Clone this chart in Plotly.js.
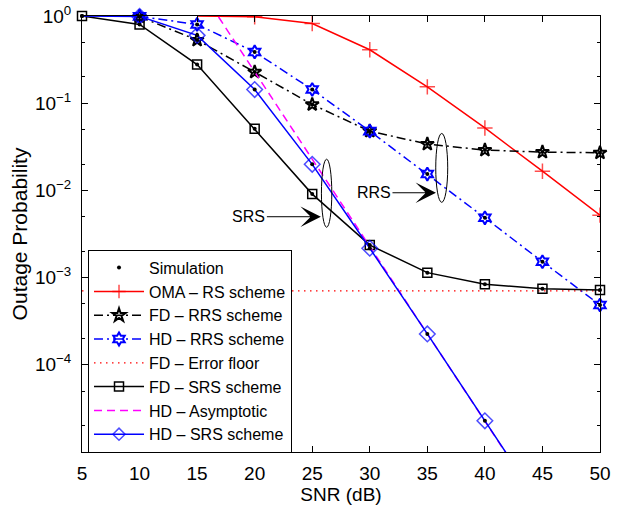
<!DOCTYPE html>
<html><head><meta charset="utf-8">
<script src="https://cdn.plot.ly/plotly-3.0.1.min.js"></script>
<style>html,body{margin:0;padding:0;background:#fff}</style>
</head><body>
<div id="chart" style="width:625px;height:508px"></div>
<script>
// ---- data ----
const snrTicks = [5, 10, 15, 20, 25, 30, 35, 40, 45, 50];
const omaSnr = [15, 20, 25, 30, 35, 40, 45, 50];
const omaRs = [1, 0.98, 0.82, 0.41, 0.154, 0.052, 0.0166, 0.0052];
const rrsSnr = [10, 15, 20, 25, 30, 35, 40, 45, 50];
const fdRrs = [0.98, 0.53, 0.228, 0.0966, 0.0478, 0.034, 0.029, 0.0275, 0.027];
const hdRrs = [0.99, 0.80, 0.387, 0.1435, 0.0478, 0.0154, 0.00485, 0.00152, 0.000485];
const fdSrsSnr = [5, 10, 15, 20, 25, 30, 35, 40, 45, 50];
const fdSrs = [1, 0.80, 0.277, 0.0508, 0.00907, 0.00236, 0.00114, 0.000837, 0.000746, 0.000721];
const hdSrsSnr = [5, 10, 15, 20, 25, 30, 35, 40, 45];
const hdSrs = [1, 0.99, 0.60, 0.1435, 0.0199, 0.00217, 0.000226, 0.0000228, 0.0000023];
const asymSnr = [15, 20, 25, 30, 35, 40, 45];
const hdAsym = [2.3, 0.23, 0.0225, 0.00225, 0.000226, 0.0000226, 0.00000225];
const floorSnr = [5, 50];
const fdFloor = [0.000703, 0.000703];
const yTickVals = [1, 0.1, 0.01, 0.001, 0.0001];
const yTickText = ['10<sup>0</sup>', '10<sup>−1</sup>', '10<sup>−2</sup>', '10<sup>−3</sup>', '10<sup>−4</sup>'];
const seriesNames = ['Simulation', 'OMA – RS scheme', 'FD – RRS scheme', 'HD – RRS scheme',
  'FD – Error floor', 'FD – SRS scheme', 'HD – Asymptotic', 'HD – SRS scheme'];
const yMin = 1e-5;

// simulation dots: points of the four relay-selection curves inside the plot
const simX = [], simY = [];
[[rrsSnr, fdRrs], [rrsSnr, hdRrs], [fdSrsSnr, fdSrs], [hdSrsSnr, hdSrs]].forEach(([xs, ys]) => {
  xs.forEach((x, i) => { if (ys[i] >= yMin) { simX.push(x); simY.push(ys[i]); } });
});

const FONT = 'Liberation Sans, Arial, Helvetica, sans-serif';
const sizesHideFirst = (arr, s) => arr.map((_, i) => i === 0 ? 0 : s);

const traces = [
  { name: seriesNames[1], x: omaSnr, y: omaRs, mode: 'lines+markers', legendrank: 2,
    line: { color: '#ff0000', width: 1.5 },
    marker: { symbol: 'cross-thin-open', size: sizesHideFirst(omaSnr, 11), color: '#ff0000', line: { color: '#ff0000', width: 1.5 } } },
  { name: seriesNames[2], x: rrsSnr, y: fdRrs, mode: 'lines+markers', legendrank: 3, cliponaxis: false,
    line: { color: '#000000', width: 1.5, dash: '9px,4px,2px,4px' },
    marker: { symbol: 'star-open', size: 10, color: '#000000', line: { color: '#000000', width: 2 } } },
  { name: seriesNames[3], x: rrsSnr, y: hdRrs, mode: 'lines+markers', legendrank: 4, cliponaxis: false,
    line: { color: '#0000ff', width: 1.5, dash: '9px,4px,2px,4px' },
    marker: { symbol: 'hexagram-open', size: 10, color: '#0000ff', line: { color: '#0000ff', width: 2 } } },
  { name: seriesNames[4], x: floorSnr, y: fdFloor, mode: 'lines', legendrank: 5,
    line: { color: '#ff0000', width: 1.2, dash: '1.5px,4.5px' } },
  { name: seriesNames[5], x: fdSrsSnr, y: fdSrs, mode: 'lines+markers', legendrank: 6, cliponaxis: false,
    line: { color: '#000000', width: 1.5 },
    marker: { symbol: 'square-open', size: 9, color: '#000000', line: { color: '#000000', width: 1.5 } } },
  { name: seriesNames[6], x: asymSnr, y: hdAsym, mode: 'lines', legendrank: 7,
    line: { color: '#ff00ff', width: 1.5, dash: '8px,5px' } },
  { name: seriesNames[7], x: hdSrsSnr, y: hdSrs, mode: 'lines+markers', legendrank: 8, cliponaxis: false,
    line: { color: '#0000ff', width: 1.5 },
    marker: { symbol: 'diamond-open', size: hdSrsSnr.map((x, i) => (i === 0 || hdSrs[i] < yMin) ? 0 : 12),
      color: '#0000ff', line: { color: '#0000ff', width: 1.5 } } },
  { name: seriesNames[0], x: simX, y: simY, mode: 'markers', legendrank: 1, cliponaxis: false,
    marker: { symbol: 'circle', size: 4, color: '#000000' } }
];

const axisCommon = {
  showline: true, linecolor: '#000', linewidth: 1, mirror: 'allticks',
  ticks: 'inside', ticklen: 6, tickcolor: '#000', tickwidth: 1,
  showgrid: false, zeroline: false,
  tickfont: { family: FONT, size: 19, color: '#000' }
};

const layout = {
  width: 625, height: 508,
  margin: { l: 82, r: 25, t: 16, b: 56 },
  paper_bgcolor: '#fff', plot_bgcolor: '#fff',
  font: { family: FONT, color: '#000' },
  showlegend: true,
  xaxis: Object.assign({}, axisCommon, {
    range: [5, 50], tickvals: snrTicks, ticklabelstandoff: 4,
    title: { text: 'SNR (dB)', standoff: 2, font: { family: FONT, size: 19, color: '#000' } }
  }),
  yaxis: Object.assign({}, axisCommon, {
    type: 'log', range: [-5, 0], tickvals: yTickVals, ticktext: yTickText, ticklabelstandoff: 6,
    minor: { ticks: 'inside', ticklen: 3, tickcolor: '#000', showgrid: false },
    title: { text: 'Outage Probability', standoff: 1, font: { family: FONT, size: 21, color: '#000' } }
  }),
  legend: {
    x: 0.0116, y: 0.464, xanchor: 'left', yanchor: 'top',
    bgcolor: '#fff', bordercolor: '#000', borderwidth: 1,
    font: { family: FONT, size: 16, color: '#000' },
    itemwidth: 50, tracegroupgap: 0
  },
  shapes: [
    { type: 'circle', xref: 'x', yref: 'y', x0: 25.8, x1: 26.7, y0: 0.00378, y1: 0.0228, line: { color: '#000', width: 1 } },
    { type: 'circle', xref: 'x', yref: 'y', x0: 35.73, x1: 36.77, y0: 0.0073, y1: 0.045, line: { color: '#000', width: 1 } }
  ],
  annotations: [
    { text: 'SRS', x: 25.75, y: -2.302, xref: 'x', yref: 'y', ax: -72, ay: 0,
      showarrow: true, arrowhead: 3, arrowsize: 3.4, arrowwidth: 1, arrowcolor: '#000',
      font: { family: FONT, size: 16, color: '#000' } },
    { text: 'RRS', x: 35.75, y: -2.027, xref: 'x', yref: 'y', ax: -62, ay: 0,
      showarrow: true, arrowhead: 3, arrowsize: 3.4, arrowwidth: 1, arrowcolor: '#000',
      font: { family: FONT, size: 16, color: '#000' } }
  ]
};

Plotly.newPlot('chart', traces, layout, { displayModeBar: false, staticPlot: true });
</script>
</body></html>
